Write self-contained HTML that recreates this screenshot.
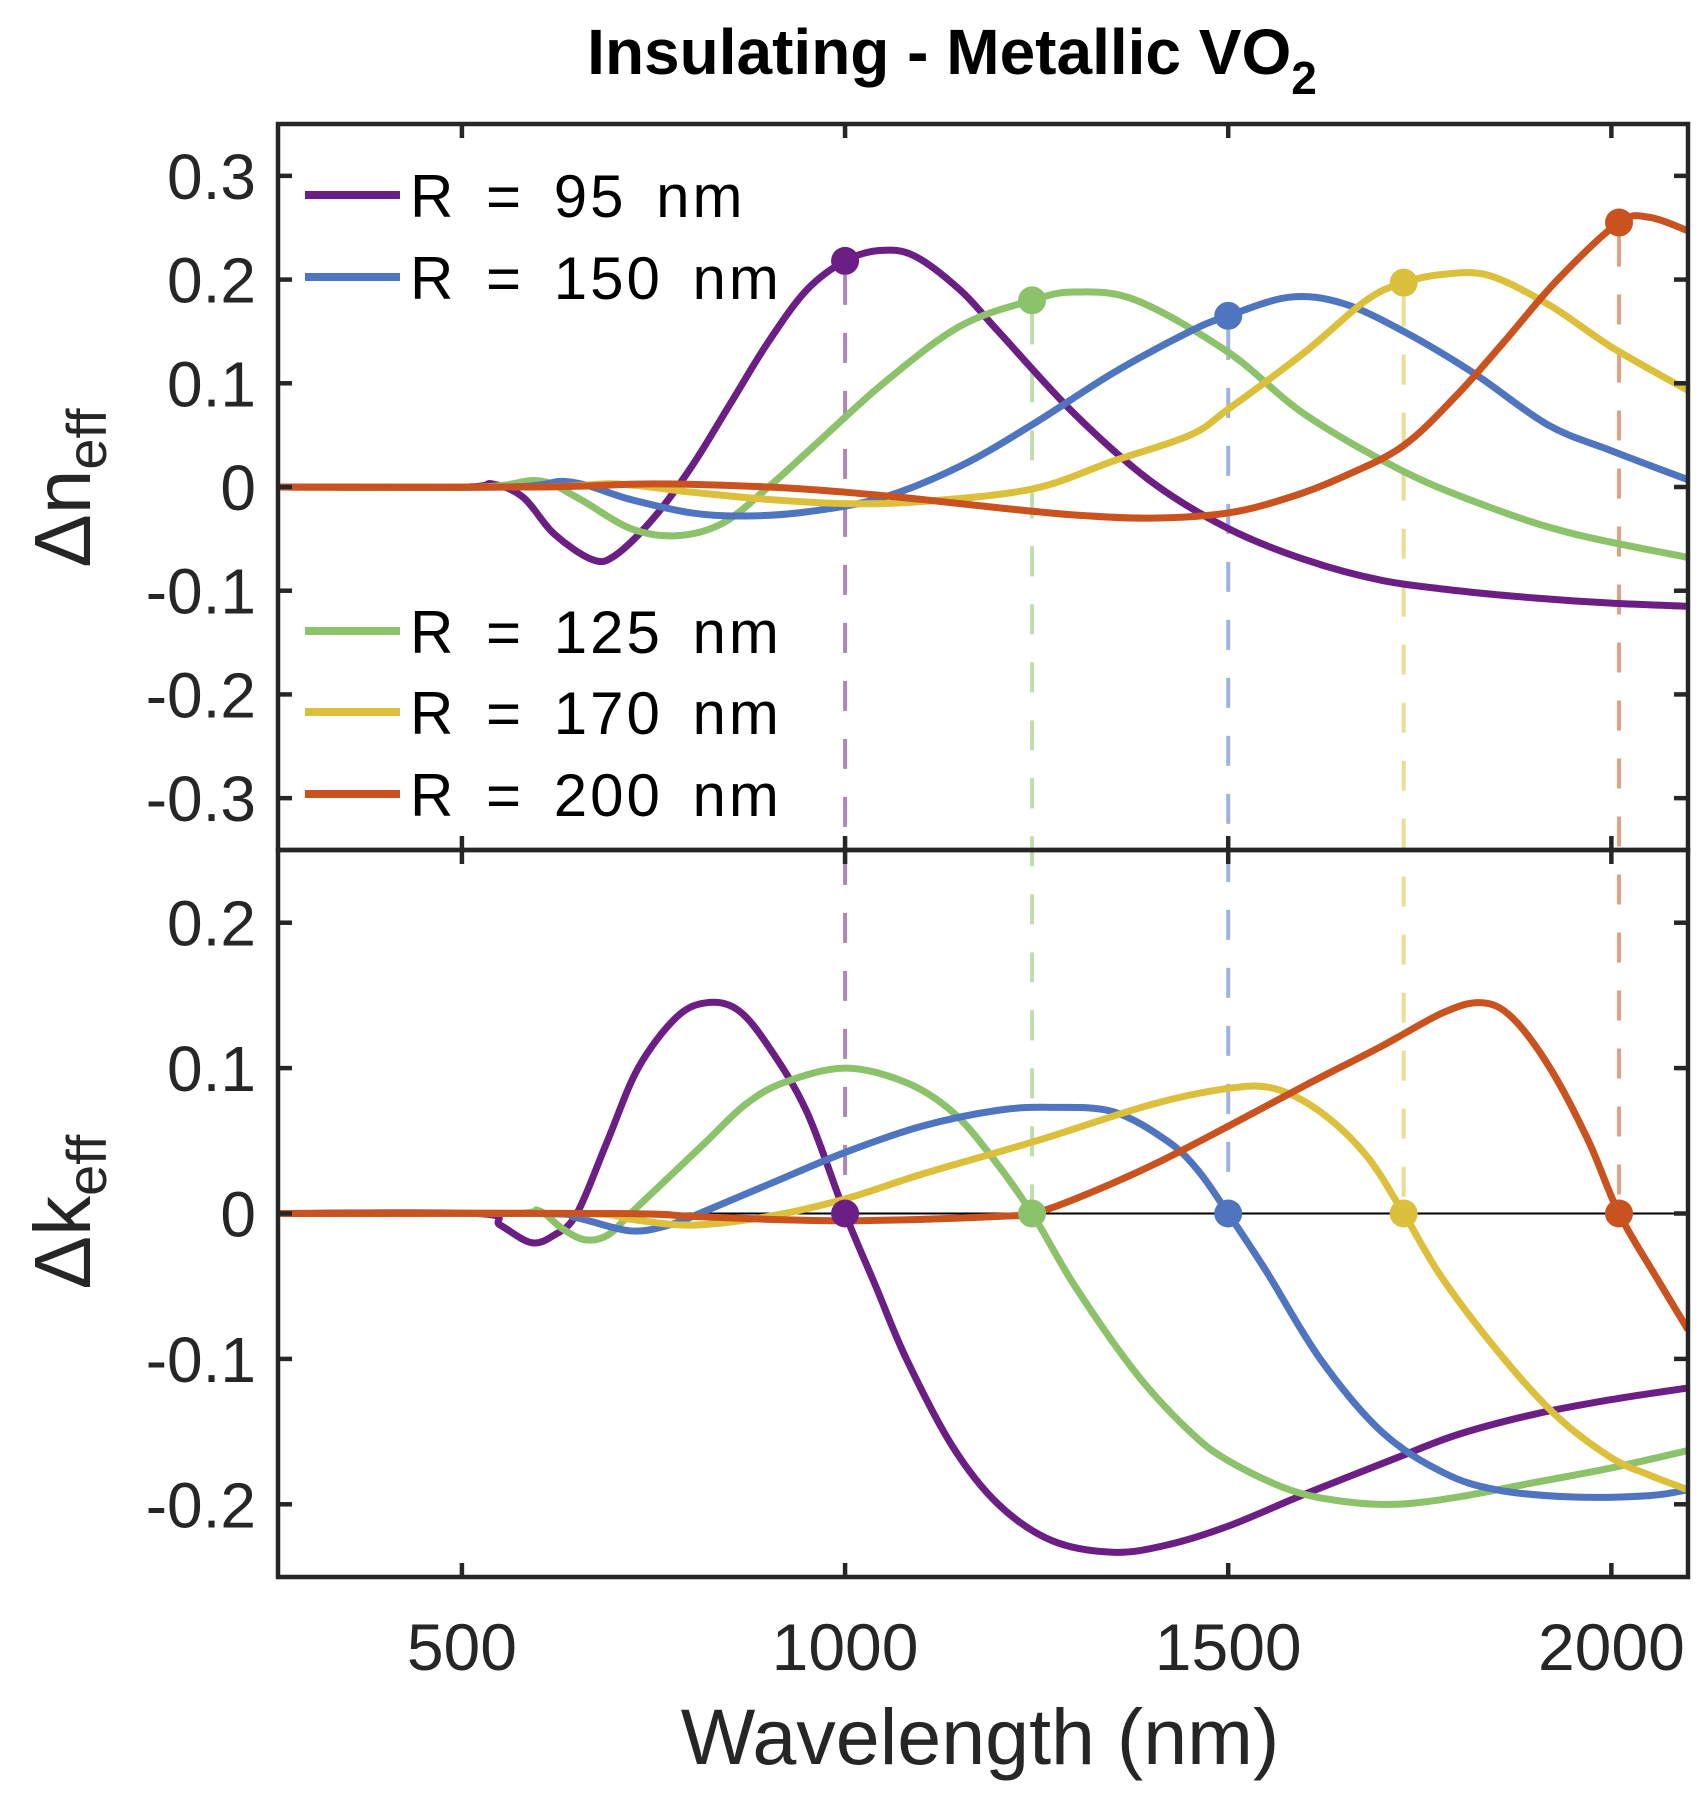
<!DOCTYPE html>
<html><head><meta charset="utf-8"><style>
html,body{margin:0;padding:0;background:#fff;}
svg{display:block;font-family:"Liberation Sans","DejaVu Sans",sans-serif;}
</style></head><body>
<svg id="chart" width="1705" height="1798" viewBox="0 0 1705 1798" xmlns="http://www.w3.org/2000/svg">
<text x="952" y="74" text-anchor="middle" font-size="64" font-weight="bold" fill="#000">Insulating - Metallic VO<tspan font-size="46" dy="20">2</tspan></text>
<g id="plots"></g>
<text transform="translate(90,488) rotate(-90)" text-anchor="middle" font-size="80" fill="#262626">Δn<tspan font-size="56" dy="16">eff</tspan></text>
<text transform="translate(90,1212) rotate(-90)" text-anchor="middle" font-size="80" fill="#262626">Δk<tspan font-size="56" dy="16">eff</tspan></text>
<text x="980" y="1764" text-anchor="middle" font-size="79" fill="#262626">Wavelength (nm)</text>
</svg>
<script>
const seriesNames = ["R = 95 nm","R = 125 nm","R = 150 nm","R = 170 nm","R = 200 nm"];
const seriesColors = ["#6b1f84","#8cc26a","#4f74c0","#dcc03c","#c9521f"];
const resonanceX = [1000,1244,1500,1729,2010];
const dnPeakY = [0.218,0.18,0.165,0.197,0.255];
const xTicks = [500,1000,1500,2000];
const dnTicks = [0.3,0.2,0.1,0,-0.1,-0.2,-0.3];
const dkTicks = [0.2,0.1,0,-0.1,-0.2];
const dn95 = [[260,0],[500,0],[540,0.003],[580,-0.01],[620,-0.045],[670,-0.07],[700,-0.066],[750,-0.03],[800,0.02],[850,0.08],[900,0.14],[950,0.19],[1000,0.218],[1045,0.228],[1090,0.223],[1150,0.19],[1200,0.15],[1300,0.07],[1400,0.005],[1500,-0.04],[1600,-0.07],[1700,-0.09],[1800,-0.1],[1900,-0.107],[2000,-0.112],[2100,-0.115]];
const dn125 = [[260,0],[520,0],[600,0.006],[650,-0.01],[720,-0.04],[780,-0.047],[840,-0.035],[900,0],[960,0.04],[1050,0.1],[1150,0.155],[1244,0.18],[1300,0.188],[1380,0.18],[1500,0.13],[1600,0.07],[1729,0.015],[1843,-0.02],[1950,-0.045],[2100,-0.068]];
const dn150 = [[260,0],[560,0],[640,0.005],[720,-0.012],[800,-0.025],[870,-0.028],[950,-0.024],[1050,-0.01],[1150,0.02],[1244,0.06],[1350,0.11],[1450,0.15],[1500,0.165],[1580,0.183],[1650,0.177],[1729,0.15],[1820,0.11],[1917,0.06],[2000,0.035],[2100,0.007]];
const dn170 = [[260,0],[600,0],[700,0.003],[800,-0.005],[900,-0.012],[1000,-0.016],[1100,-0.014],[1244,-0.002],[1350,0.025],[1450,0.05],[1500,0.075],[1600,0.13],[1680,0.18],[1729,0.197],[1780,0.205],[1840,0.204],[1920,0.175],[2000,0.135],[2100,0.093]];
const dn200 = [[260,0],[600,0],[750,0.003],[900,0],[1000,-0.005],[1100,-0.012],[1200,-0.02],[1300,-0.027],[1400,-0.03],[1500,-0.025],[1580,-0.01],[1650,0.01],[1729,0.04],[1800,0.09],[1860,0.14],[1930,0.2],[2010,0.255],[2050,0.26],[2100,0.247]];
const dk95 = [[260,0],[520,0],[550,-0.008],[590,-0.02],[620,-0.015],[650,0],[690,0.05],[730,0.1],[780,0.135],[820,0.145],[860,0.14],[900,0.115],[950,0.07],[1000,0],[1040,-0.05],[1080,-0.1],[1140,-0.16],[1200,-0.2],[1270,-0.225],[1350,-0.233],[1420,-0.228],[1500,-0.215],[1600,-0.193],[1720,-0.168],[1800,-0.152],[1900,-0.138],[2000,-0.128],[2100,-0.12]];
const dk125 = [[260,0],[560,0],[600,0.002],[630,-0.01],[660,-0.018],[690,-0.015],[720,0],[770,0.025],[820,0.05],[870,0.075],[920,0.09],[1000,0.1],[1080,0.09],[1140,0.07],[1190,0.04],[1244,0],[1300,-0.05],[1380,-0.11],[1450,-0.15],[1500,-0.17],[1580,-0.19],[1650,-0.198],[1720,-0.2],[1800,-0.195],[1900,-0.185],[2000,-0.175],[2100,-0.163]];
const dk150 = [[260,0],[600,0],[650,-0.003],[720,-0.012],[770,-0.008],[810,0],[900,0.02],[1000,0.042],[1100,0.06],[1200,0.071],[1270,0.073],[1350,0.07],[1420,0.05],[1460,0.03],[1500,0],[1550,-0.04],[1620,-0.1],[1700,-0.15],[1780,-0.178],[1850,-0.19],[1950,-0.195],[2050,-0.194],[2100,-0.19]];
const dk170 = [[260,0],[650,0],[720,-0.004],[800,-0.008],[900,-0.002],[1000,0.01],[1100,0.027],[1250,0.05],[1400,0.075],[1500,0.086],[1560,0.086],[1620,0.07],[1680,0.04],[1729,0],[1780,-0.045],[1860,-0.1],[1930,-0.14],[2000,-0.168],[2050,-0.18],[2100,-0.19]];
const dk200 = [[260,0],[700,0],[800,-0.002],[900,-0.004],[1000,-0.005],[1100,-0.004],[1200,-0.002],[1244,0],[1300,0.01],[1400,0.033],[1500,0.06],[1600,0.088],[1700,0.115],[1780,0.138],[1830,0.145],[1870,0.135],[1920,0.1],[1970,0.05],[2010,0],[2060,-0.045],[2100,-0.08]];
const dnSeries = [dn95,dn125,dn150,dn170,dn200];
const dkSeries = [dk95,dk125,dk150,dk170,dk200];

const NS="http://www.w3.org/2000/svg";
const L=278,R=1688,T1=124,B1=850,T2=850,B2=1577;
const X0=260,X1=2100;
const x=v=>L+(v-X0)/(X1-X0)*(R-L);
const yN=v=>T1+(0.35-v)/0.7*(B1-T1);
const yK=v=>T2+(0.25-v)/0.5*(B2-T2);
const root=document.getElementById('plots');
function mk(tag,attrs,parent){const e=document.createElementNS(NS,tag);for(const k in attrs)e.setAttribute(k,attrs[k]);(parent||root).appendChild(e);return e;}
function pathFor(pts,fy){
  const P=pts.map(p=>[x(p[0]),fy(p[1])]);
  let d="M"+P[0][0]+","+P[0][1];
  for(let i=0;i<P.length-1;i++){
    const p0=P[Math.max(0,i-1)],p1=P[i],p2=P[i+1],p3=P[Math.min(P.length-1,i+2)];
    const c1=[p1[0]+(p2[0]-p0[0])/6,p1[1]+(p2[1]-p0[1])/6];
    const c2=[p2[0]-(p3[0]-p1[0])/6,p2[1]-(p3[1]-p1[1])/6];
    d+=" C"+c1[0]+","+c1[1]+" "+c2[0]+","+c2[1]+" "+p2[0]+","+p2[1];
  }
  return d;
}
const clip=mk('clipPath',{id:'cp'});mk('rect',{x:L,y:T1,width:R-L,height:B2-T1},clip);
const zl=mk('line',{x1:L,x2:R,y1:yK(0),y2:yK(0),stroke:'#000','stroke-width':2});


resonanceX.forEach((rx,i)=>{
  const l=mk('line',{x1:x(rx),x2:x(rx),y1:yN(dnPeakY[i])+14,y2:yK(0),stroke:seriesColors[i],'stroke-width':4,'stroke-dasharray':'30 28','stroke-opacity':0.55});
  
  
});
const g=mk('g',{'clip-path':'url(#cp)'});
dnSeries.forEach((s,i)=>{
  const p=mk('path',{d:pathFor(s,yN),fill:'none',stroke:seriesColors[i],'stroke-width':7,'stroke-linejoin':'round'},g);
  
  
});
dkSeries.forEach((s,i)=>{
  const p=mk('path',{d:pathFor(s,yK),fill:'none',stroke:seriesColors[i],'stroke-width':7,'stroke-linejoin':'round'},g);
  
  
});
resonanceX.forEach((rx,i)=>{
  const c=mk('circle',{cx:x(rx),cy:yN(dnPeakY[i]),r:14,fill:seriesColors[i]});
  
  
  const c2=mk('circle',{cx:x(rx),cy:yK(0),r:14,fill:seriesColors[i]});
  
  
});
[[T1,B1],[T2,B2]].forEach((f,k)=>{
  const r=mk('rect',{x:L,y:f[0],width:R-L,height:f[1]-f[0],fill:'none',stroke:'#262626','stroke-width':4.5});
  
  
  xTicks.forEach(t=>{
    mk('line',{x1:x(t),x2:x(t),y1:f[0],y2:f[0]+14,stroke:'#262626','stroke-width':4.5});
    mk('line',{x1:x(t),x2:x(t),y1:f[1],y2:f[1]-14,stroke:'#262626','stroke-width':4.5});
  });
});
dnTicks.forEach(t=>{
  mk('line',{x1:L,x2:L+14,y1:yN(t),y2:yN(t),stroke:'#262626','stroke-width':4.5});
  mk('line',{x1:R,x2:R-14,y1:yN(t),y2:yN(t),stroke:'#262626','stroke-width':4.5});
  const tx=mk('text',{x:L-22,y:yN(t)+23,'text-anchor':'end','font-size':64,fill:'#262626'});
  tx.textContent=t===0?'0':t.toFixed(1);
  
  
});
dkTicks.forEach(t=>{
  mk('line',{x1:L,x2:L+14,y1:yK(t),y2:yK(t),stroke:'#262626','stroke-width':4.5});
  mk('line',{x1:R,x2:R-14,y1:yK(t),y2:yK(t),stroke:'#262626','stroke-width':4.5});
  const tx=mk('text',{x:L-22,y:yK(t)+23,'text-anchor':'end','font-size':64,fill:'#262626'});
  tx.textContent=t===0?'0':t.toFixed(1);
  
  
});
xTicks.forEach(t=>{
  const tx=mk('text',{x:x(t),y:1670,'text-anchor':'middle','font-size':66,fill:'#262626'});
  tx.textContent=String(t);
  
  
});
const legendOrder=[0,2,1,3,4];
const legendY=[195,277,631,712,794];
legendOrder.forEach((si,k)=>{
  const lg=mk('g',{});
  
  
  mk('line',{x1:305,x2:400,y1:legendY[k],y2:legendY[k],stroke:seriesColors[si],'stroke-width':8},lg);
  const tx=mk('text',{x:410,y:legendY[k]+22,'font-size':60,'letter-spacing':'3','word-spacing':'10',fill:'#000'},lg);
  tx.textContent=seriesNames[si];
});
</script>
</body></html>
